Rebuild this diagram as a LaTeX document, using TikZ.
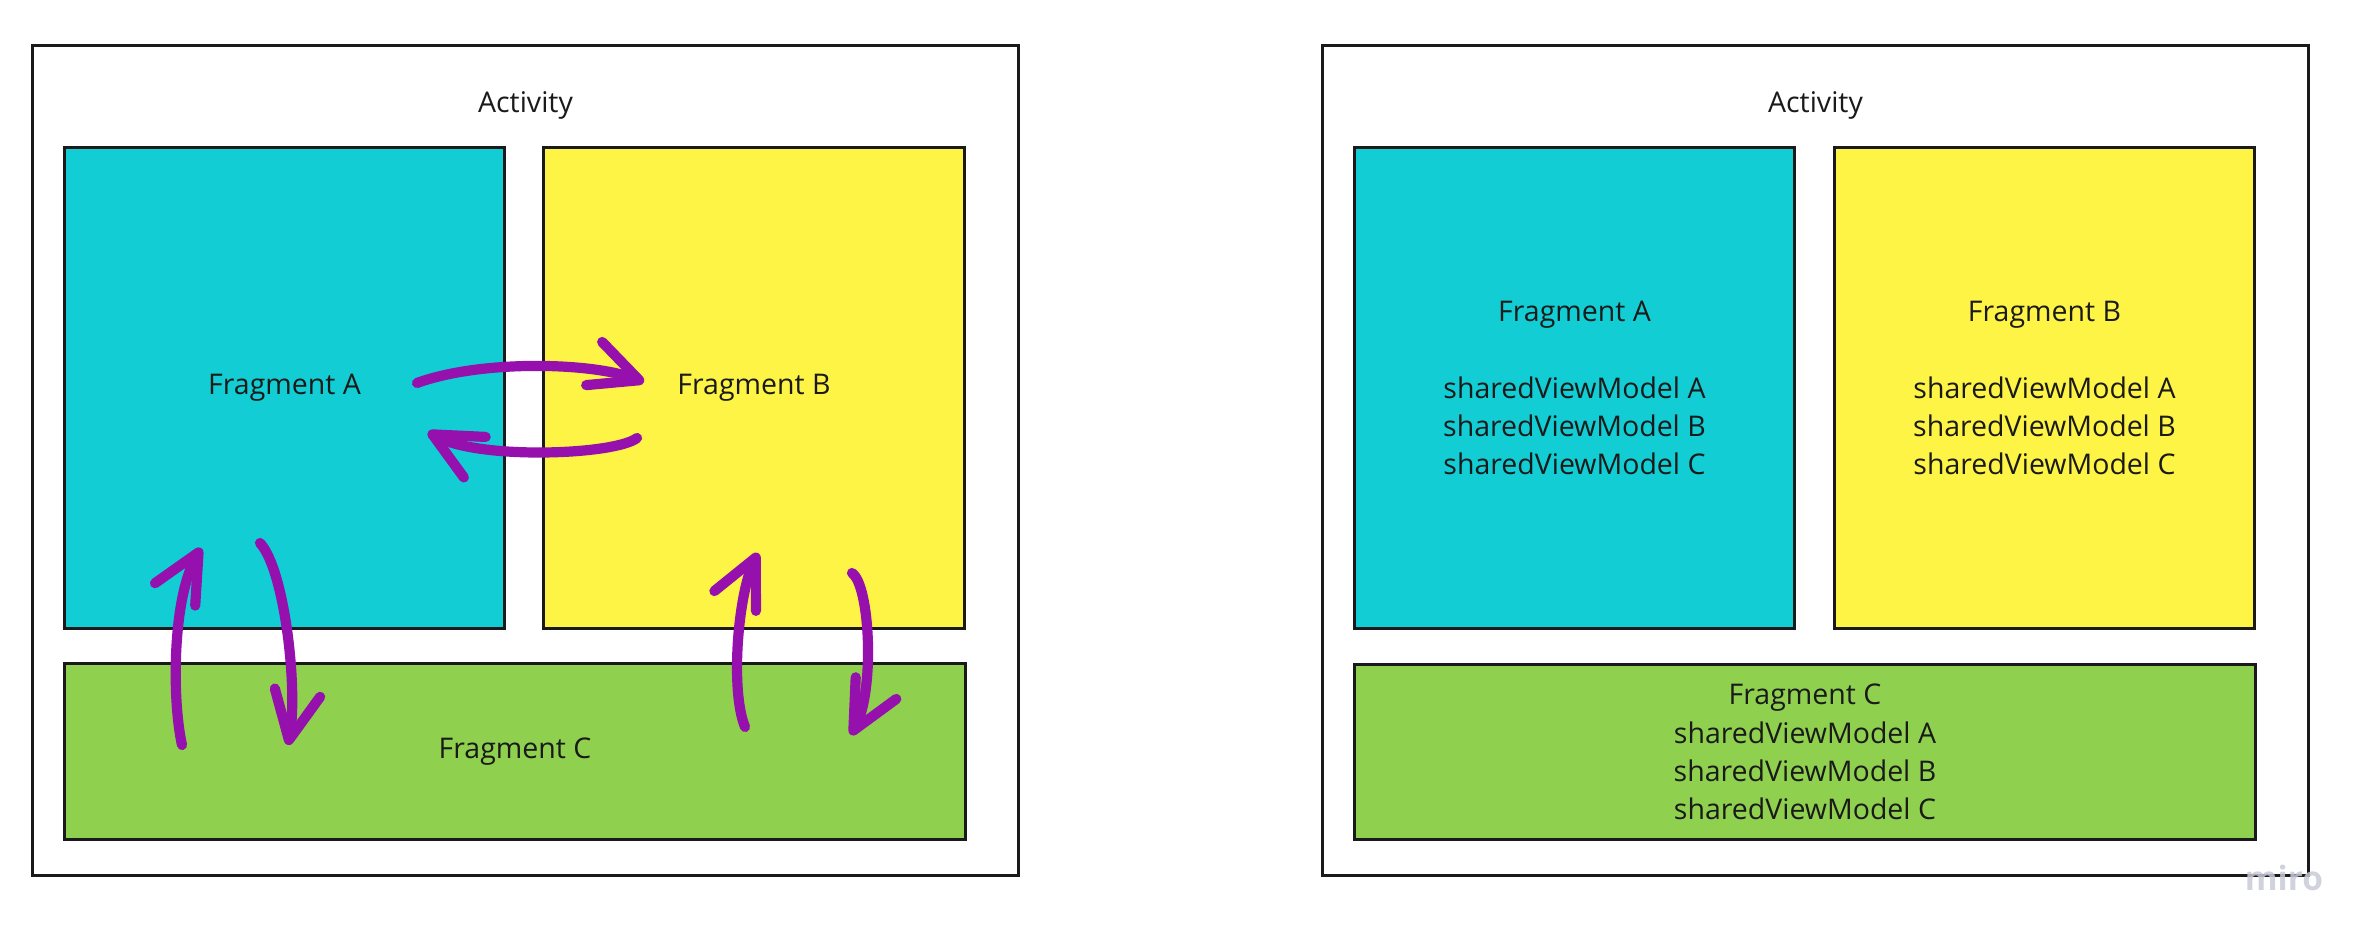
\documentclass[tikz,border=0pt]{standalone}
\usepackage{fontspec}
\setmainfont{Open Sans}
\usetikzlibrary{arrows.meta}
\definecolor{figdark}{HTML}{1A1A1A}
\definecolor{fragcyan}{HTML}{12CDD4}
\definecolor{fragyellow}{HTML}{FEF445}
\definecolor{fraggreen}{HTML}{8FD14F}
\definecolor{flowviolet}{HTML}{9510AC}
\definecolor{markgray}{HTML}{C8CAD8}
\tikzset{
  activity/.style={
    rectangle, draw=figdark, fill=white, line width=0.9pt,
    minimum width=9.85cm, minimum height=8.29cm, inner sep=0pt
  },
  fragment/.style={
    rectangle, draw=figdark, line width=0.85pt,
    align=center, inner sep=0pt, text=figdark,
    font=\fontsize{8.1}{10.9}\selectfont
  },
  fraga/.style={fragment, fill=fragcyan, minimum width=4.39cm, minimum height=4.8cm},
  fragb/.style={fragment, fill=fragyellow, minimum width=4.2cm, minimum height=4.8cm},
  fragc/.style={fragment, fill=fraggreen, minimum width=9.0cm, minimum height=1.75cm},
  caption/.style={font=\fontsize{8.1}{10.9}\selectfont, text=figdark, inner sep=0pt},
  watermark/.style={font=\fontsize{9.5}{10}\selectfont\bfseries, text=markgray, opacity=0.85, inner sep=0pt},
  flow/.style={
    draw=flowviolet, line width=2.9pt, line cap=round,
    -{Straight Barb[length=4.8mm, width=4.6mm, round]}
  }
}

\begin{document}
\begin{tikzpicture}[x=0.01cm, y=-0.01cm]
  \useasboundingbox (0,0) rectangle (2377,946);

  % left: fragments talk to each other
  \node[activity] (actleft) at (525.5,460.5) {};
  \node[caption] (actlefttext) at (525.5,105) {Activity};
  \node[fraga] (aleft) at (284.5,388) {Fragment A};
  \node[fragb] (bleft) at (754,388) {Fragment B};
  \node[fragc] (cleft) at (515,751.5) {Fragment C};

  \coordinate (ab1) at (417,383);  \coordinate (ab2) at (644,382);
  \coordinate (ba1) at (637,438);  \coordinate (ba2) at (428,432);
  \coordinate (ca1) at (182,745);  \coordinate (ca2) at (201,548);
  \coordinate (ac1) at (260,543);  \coordinate (ac2) at (288,745);
  \coordinate (cb1) at (745,727);  \coordinate (cb2) at (758,553);
  \coordinate (bc1) at (852,573);  \coordinate (bc2) at (851,735);

  \draw[flow] (ab1) .. controls (480,360) and (590,362) .. (ab2);
  \draw[flow] (ba1) .. controls (615,455) and (480,460) .. (ba2);
  \draw[flow] (ca1) .. controls (172,700) and (172,600) .. (ca2);
  \draw[flow] (ac1) .. controls (285,570) and (298,690) .. (ac2);
  \draw[flow] (cb1) .. controls (730,690) and (738,595) .. (cb2);
  \draw[flow] (bc1) .. controls (870,585) and (875,690) .. (bc2);

  % right: shared view models
  \node[activity] (actright) at (1815.5,460.5) {};
  \node[caption] (actrighttext) at (1815.5,105) {Activity};
  \node[fraga] (aright) at (1574.5,388)
    {Fragment A\\[10.9pt]sharedViewModel A\\sharedViewModel B\\sharedViewModel C};
  \node[fragb] (bright) at (2044.5,388)
    {Fragment B\\[10.9pt]sharedViewModel A\\sharedViewModel B\\sharedViewModel C};
  \node[fragc] (cright) at (1805,752)
    {Fragment C\\sharedViewModel A\\sharedViewModel B\\sharedViewModel C};

  \node[watermark] (miro) at (2284,878) {miro};
\end{tikzpicture}
\end{document}
